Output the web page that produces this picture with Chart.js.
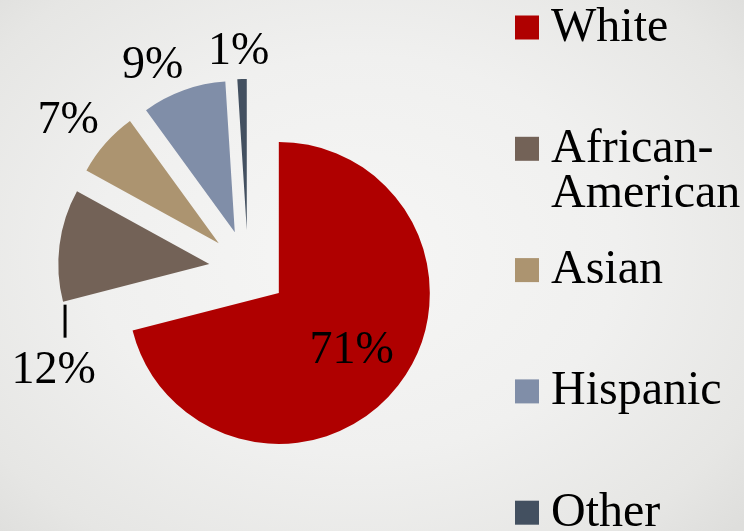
<!DOCTYPE html>
<html>
<head>
<meta charset="utf-8">
<script src="https://cdn.jsdelivr.net/npm/chart.js@4/dist/chart.umd.min.js"></script>
<style>
  html, body { margin: 0; padding: 0; }
  body {
    width: 744px; height: 531px; overflow: hidden;
    background: radial-gradient(ellipse 70% 75% at 48% 48%, #f6f6f5 0%, #f0f0ef 50%, #e6e6e4 85%, #dededc 100%);
  }
  #wrap { position: relative; width: 744px; height: 531px; }
</style>
</head>
<body>
<div id="wrap"><canvas id="c" width="744" height="531"></canvas></div>
<script>
// ---- data ----
const categories = ['White', 'African-American', 'Asian', 'Hispanic', 'Other'];
const shares = [71, 12, 7, 9, 1];
const sliceColors = ['#AF0000', '#736257', '#AC9470', '#808EA8', '#435060'];

// ---- layout / style ----
const PIE_RADIUS = 151;
const EXPLODE = 39;
const SERIF = '"Liberation Serif", "Times New Roman", serif';
const LABEL_FONT = '46px ' + SERIF;
const LEGEND_FONT = '48px ' + SERIF;
const labelPlacement = [
  { mode: 'inside', frac: 0.61, dx: 0, dy: -2 },
  { mode: 'leader', lineDx: 2, lineTop: 3, lineBottom: 36, textDx: -9.5, textDy: 65.5 },
  { mode: 'outside', gap: 45, dx: -3.5, dy: 3.5 },
  { mode: 'outside', gap: 37, dx: -18.5, dy: 7 },
  { mode: 'outside', gap: 31, dx: -2.5, dy: 0.5 }
];
const legendLayout = { boxX: 515, box: 24, textX: 551, firstY: 27.5, step: 121.3, baseOff: 13, lineH: 45, maxW: 190 };

const explodePlugin = {
  id: 'explode',
  afterDatasetUpdate(chart, args) {
    const meta = chart.getDatasetMeta(args.index);
    meta.data.forEach(arc => {
      const mid = (arc.startAngle + arc.endAngle) / 2;
      arc.x += Math.cos(mid) * EXPLODE;
      arc.y += Math.sin(mid) * EXPLODE;
    });
  }
};

const labelPlugin = {
  id: 'sliceLabels',
  afterDatasetsDraw(chart) {
    const ctx = chart.ctx;
    const meta = chart.getDatasetMeta(0);
    const vals = chart.data.datasets[0].data;
    ctx.save();
    ctx.font = LABEL_FONT;
    ctx.fillStyle = '#000';
    ctx.textAlign = 'center';
    ctx.textBaseline = 'alphabetic';
    const half = 46 * 0.338;
    meta.data.forEach((arc, i) => {
      const p = labelPlacement[i];
      const txt = vals[i] + '%';
      const mid = (arc.startAngle + arc.endAngle) / 2;
      const R = arc.outerRadius;
      let cx, cy;
      if (p.mode === 'inside') {
        cx = arc.x + Math.cos(mid) * R * p.frac + p.dx;
        cy = arc.y + Math.sin(mid) * R * p.frac + p.dy;
      } else if (p.mode === 'outside') {
        cx = arc.x + Math.cos(mid) * (R + p.gap) + p.dx;
        cy = arc.y + Math.sin(mid) * (R + p.gap) + p.dy;
      } else {
        const kx = arc.x + Math.cos(arc.startAngle) * R;
        const ky = arc.y + Math.sin(arc.startAngle) * R;
        ctx.beginPath();
        ctx.lineWidth = 3;
        ctx.strokeStyle = '#000';
        ctx.moveTo(kx + p.lineDx, ky + p.lineTop);
        ctx.lineTo(kx + p.lineDx, ky + p.lineBottom);
        ctx.stroke();
        cx = kx + p.textDx;
        cy = ky + p.textDy;
      }
      ctx.fillText(txt, cx, cy + half);
    });
    ctx.restore();
  }
};

const legendPlugin = {
  id: 'sideLegend',
  afterDraw(chart) {
    const ctx = chart.ctx;
    const L = legendLayout;
    const colors = chart.data.datasets[0].backgroundColor;
    ctx.save();
    ctx.font = LEGEND_FONT;
    ctx.textAlign = 'left';
    ctx.textBaseline = 'alphabetic';
    chart.data.labels.forEach((lab, i) => {
      const cy = L.firstY + i * L.step;
      ctx.fillStyle = colors[i];
      ctx.fillRect(L.boxX, cy - L.box / 2, L.box, L.box);
      let lines = [lab];
      if (ctx.measureText(lab).width > L.maxW && lab.indexOf('-') > 0) {
        const k = lab.indexOf('-');
        lines = [lab.slice(0, k + 1), lab.slice(k + 1)];
      }
      ctx.fillStyle = '#000';
      lines.forEach((ln, j) => ctx.fillText(ln, L.textX, cy + L.baseOff + j * L.lineH));
    });
    ctx.restore();
  }
};

new Chart(document.getElementById('c'), {
  type: 'pie',
  data: {
    labels: categories,
    datasets: [{
      data: shares,
      backgroundColor: sliceColors,
      borderWidth: 0,
      radius: PIE_RADIUS,
      clip: false
    }]
  },
  options: {
    responsive: false,
    animation: false,
    events: [],
    layout: { padding: { left: 0, right: 248, top: 7, bottom: 0 } },
    plugins: { legend: { display: false }, tooltip: { enabled: false } }
  },
  plugins: [explodePlugin, labelPlugin, legendPlugin]
});
</script>
</body>
</html>
